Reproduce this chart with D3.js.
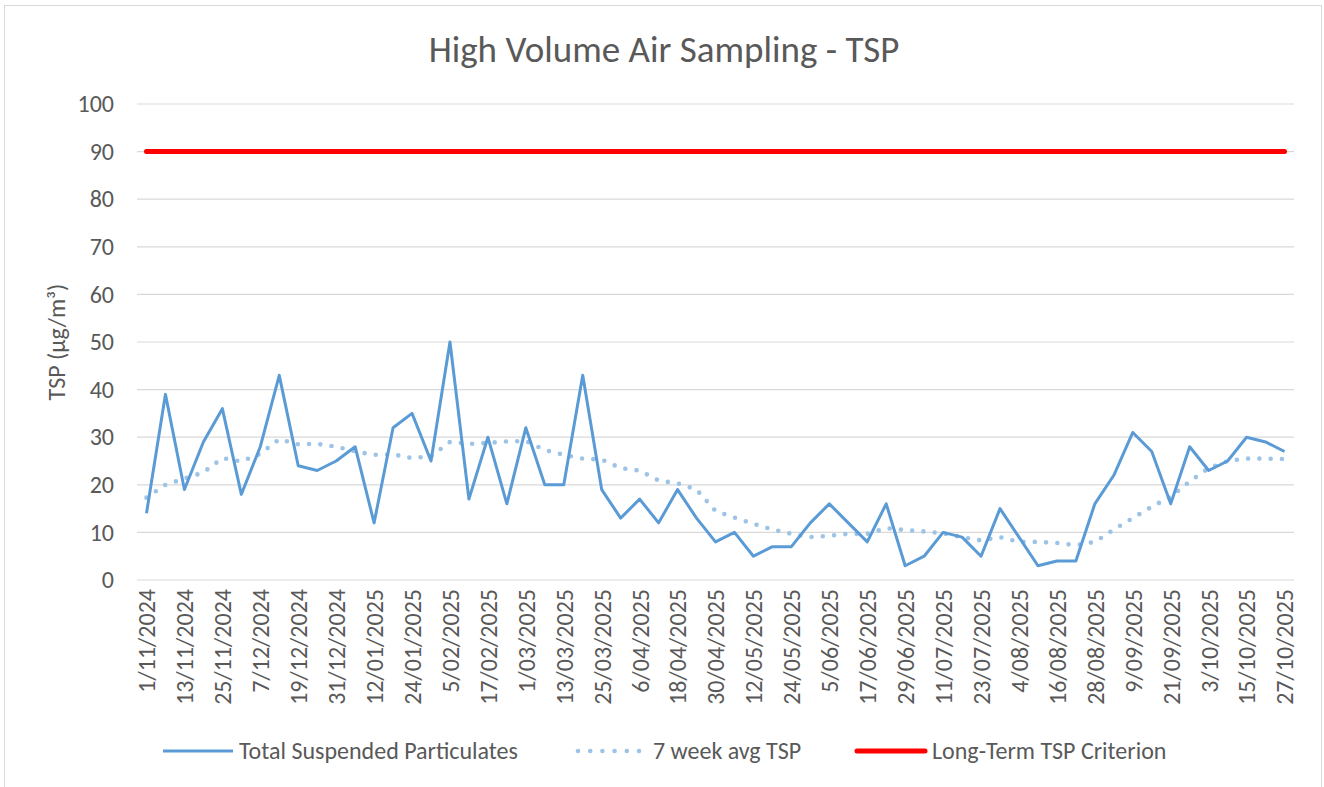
<!DOCTYPE html>
<html>
<head>
<meta charset="utf-8">
<script src="https://cdn.jsdelivr.net/npm/d3@7"></script>
<style>
  body { margin: 0; background: #fff; }
  svg { display: block; font-family: Calibri, Carlito, Lato, sans-serif; }
</style>
</head>
<body>
<div id="chart"></div>
<script>
// sampling dates, every 6 days
const dates = [
  "1/11/2024", "7/11/2024", "13/11/2024", "19/11/2024", "25/11/2024", "1/12/2024",
  "7/12/2024", "13/12/2024", "19/12/2024", "25/12/2024", "31/12/2024", "6/01/2025",
  "12/01/2025", "18/01/2025", "24/01/2025", "30/01/2025", "5/02/2025", "11/02/2025",
  "17/02/2025", "23/02/2025", "1/03/2025", "7/03/2025", "13/03/2025", "19/03/2025",
  "25/03/2025", "31/03/2025", "6/04/2025", "12/04/2025", "18/04/2025", "24/04/2025",
  "30/04/2025", "6/05/2025", "12/05/2025", "18/05/2025", "24/05/2025", "30/05/2025",
  "5/06/2025", "11/06/2025", "17/06/2025", "23/06/2025", "29/06/2025", "5/07/2025",
  "11/07/2025", "17/07/2025", "23/07/2025", "29/07/2025", "4/08/2025", "10/08/2025",
  "16/08/2025", "22/08/2025", "28/08/2025", "3/09/2025", "9/09/2025", "15/09/2025",
  "21/09/2025", "27/09/2025", "3/10/2025", "9/10/2025", "15/10/2025", "21/10/2025",
  "27/10/2025"
];

const tsp = [
  14, 39, 19, 29, 36, 18, 28, 43, 24, 23, 25, 28, 12, 32, 35, 25, 50, 17, 30, 16,
  32, 20, 20, 43, 19, 13, 17, 12, 19, 13, 8, 10, 5, 7, 7, 12, 16, 12, 8, 16,
  3, 5, 10, 9, 5, 15, 9, 3, 4, 4, 16, 22, 31, 27, 16, 28, 23, 25, 30, 29, 27
];

const avg7 = [
  17.3, 20.0, 21.3, 22.6, 25.6, 24.9, 26.5, 29.6, 28.5, 28.6,
  28.0, 27.0, 26.3, 26.4, 25.6, 26.0, 29.0, 28.6, 28.8, 29.1,
  29.2, 27.3, 26.3, 25.5, 25.3, 23.5, 23.0, 20.9, 20.3, 19.0,
  14.5, 13.1, 11.8, 10.6, 9.7, 9.0, 9.3, 9.7, 9.7, 10.9,
  10.5, 10.2, 9.8, 9.0, 8.3, 9.0, 8.0, 8.0, 7.8, 7.3,
  8.0, 10.6, 13.0, 15.4, 17.5, 20.7, 23.5, 25.0, 25.5, 25.5, 25.4
];

const criterion = 90;
const yTicks = [0, 10, 20, 30, 40, 50, 60, 70, 80, 90, 100];

const width = 1324, height = 787;
const plot = { left: 137, right: 1294, top: 104, bottom: 580 };
const textColor = "#595959";
const fontSize = 24;

const svg = d3.select("#chart").append("svg")
  .attr("width", width)
  .attr("height", height);

// outer chart border
svg.append("rect")
  .attr("x", 4.5).attr("y", 5.5)
  .attr("width", 1317).attr("height", 800)
  .attr("fill", "#fff")
  .attr("stroke", "#d9d9d9")
  .attr("stroke-width", 1);

const x = d3.scalePoint()
  .domain(dates)
  .range([plot.left, plot.right])
  .padding(0.5);

const y = d3.scaleLinear()
  .domain([0, 100])
  .range([plot.bottom, plot.top]);

svg.append("text")
  .attr("x", 664).attr("y", 62)
  .attr("text-anchor", "middle")
  .attr("font-size", 37)
  .attr("fill", textColor)
  .text("High Volume Air Sampling - TSP");

// gridlines
svg.append("g")
  .selectAll("line")
  .data(yTicks)
  .join("line")
  .attr("x1", plot.left).attr("x2", plot.right)
  .attr("y1", d => y(d)).attr("y2", d => y(d))
  .attr("stroke", "#d9d9d9")
  .attr("stroke-width", 1.2);

// y axis labels
const yAxis = svg.append("g")
  .attr("transform", `translate(${plot.left},0)`)
  .call(d3.axisLeft(y).tickValues(yTicks).tickSize(0).tickPadding(23))
  .attr("font-family", null)
  .attr("font-size", null);
yAxis.select(".domain").remove();
yAxis.selectAll("text")
  .attr("font-size", fontSize)
  .attr("fill", textColor);

svg.append("text")
  .attr("transform", `translate(57,${(plot.top + plot.bottom) / 2}) rotate(-90)`)
  .attr("text-anchor", "middle")
  .attr("dy", "0.35em")
  .attr("font-size", fontSize)
  .attr("fill", textColor)
  .text("TSP (µg/m³)");

// x axis labels, every second date
const xAxis = svg.append("g")
  .attr("transform", `translate(0,${plot.bottom})`)
  .call(d3.axisBottom(x).tickValues(dates.filter((d, i) => i % 2 === 0)).tickSize(0))
  .attr("font-family", null)
  .attr("font-size", null);
xAxis.select(".domain").remove();
xAxis.selectAll("text")
  .attr("font-size", fontSize)
  .attr("fill", textColor)
  .attr("text-anchor", "end")
  .attr("dy", "0.35em")
  .attr("transform", "translate(0,9) rotate(-90)")
  .attr("x", 0).attr("y", 0);

const line = d3.line()
  .x((d, i) => x(dates[i]))
  .y(d => y(d));

svg.append("path")
  .datum(dates.map(() => criterion))
  .attr("d", line)
  .attr("fill", "none")
  .attr("stroke", "#ff0000")
  .attr("stroke-width", 5)
  .attr("stroke-linecap", "round");

svg.append("path")
  .datum(avg7)
  .attr("d", line)
  .attr("fill", "none")
  .attr("stroke", "#9dc3e6")
  .attr("stroke-width", 4.6)
  .attr("stroke-linecap", "round")
  .attr("stroke-dasharray", "0 11.3");

svg.append("path")
  .datum(tsp)
  .attr("d", line)
  .attr("fill", "none")
  .attr("stroke", "#5b9bd5")
  .attr("stroke-width", 3)
  .attr("stroke-linejoin", "round");

// legend
const legendY = 751;
const legend = [
  { label: "Total Suspended Particulates", x0: 163, x1: 233, tx: 239, color: "#5b9bd5", w: 3, dash: null, cap: "butt" },
  { label: "7 week avg TSP", x0: 578, x1: 639, tx: 653, color: "#9dc3e6", w: 4.6, dash: "0 12.2", cap: "round" },
  { label: "Long-Term TSP Criterion", x0: 857, x1: 925, tx: 932, color: "#ff0000", w: 5, dash: null, cap: "round" }
];

const lg = svg.append("g")
  .selectAll("g")
  .data(legend)
  .join("g");

lg.append("line")
  .attr("x1", d => d.x0).attr("x2", d => d.x1)
  .attr("y1", legendY).attr("y2", legendY)
  .attr("stroke", d => d.color)
  .attr("stroke-width", d => d.w)
  .attr("stroke-linecap", d => d.cap)
  .attr("stroke-dasharray", d => d.dash);

lg.append("text")
  .attr("x", d => d.tx).attr("y", legendY)
  .attr("dy", "0.35em")
  .attr("font-size", fontSize)
  .attr("fill", textColor)
  .text(d => d.label);
</script>
</body>
</html>
